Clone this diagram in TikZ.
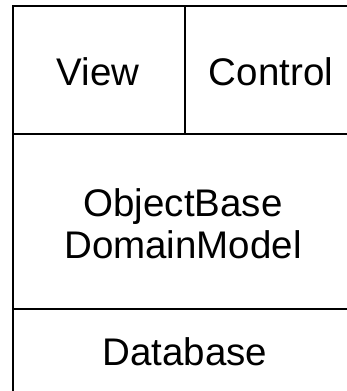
\documentclass[tikz,border=0pt]{standalone}
\usepackage{fontspec}
\setmainfont{Liberation Sans}
\usetikzlibrary{positioning}

\tikzset{
  layer/.style={font=\fontsize{38.5}{42}\selectfont, align=center},
  edge/.style={line width=1.6pt, line cap=rect}
}

\begin{document}
\begin{tikzpicture}[x=1pt, y=-1pt]
          \useasboundingbox (0,0) rectangle (346,391);

          % Define the corners of the layers
          \coordinate (tl) at (13, 6);
          \coordinate (tr) at (350, 6);
          \coordinate (bl) at (13, 395);
          \coordinate (mid) at (185, 6);
          \coordinate (ul) at (13, 134);
          \coordinate (um) at (185, 134);
          \coordinate (ur) at (350, 134);
          \coordinate (ll) at (13, 309);
          \coordinate (lr) at (350, 309);

          % Draw the outline and the dividers
          \draw[edge] (bl) -- (tl) -- (tr);
          \draw[edge] (mid) -- (um);
          \draw[edge] (ul) -- (ur);
          \draw[edge] (ll) -- (lr);

          % Define the labels
          \node[layer] (view) at (98, 72) {View};
          \node[layer] (control) at (271, 72) {Control};
          \node[layer] (objectbase) at (183, 224) {ObjectBase\\DomainModel};
          \node[layer] (database) at (185, 352) {Database};
\end{tikzpicture}
\end{document}
